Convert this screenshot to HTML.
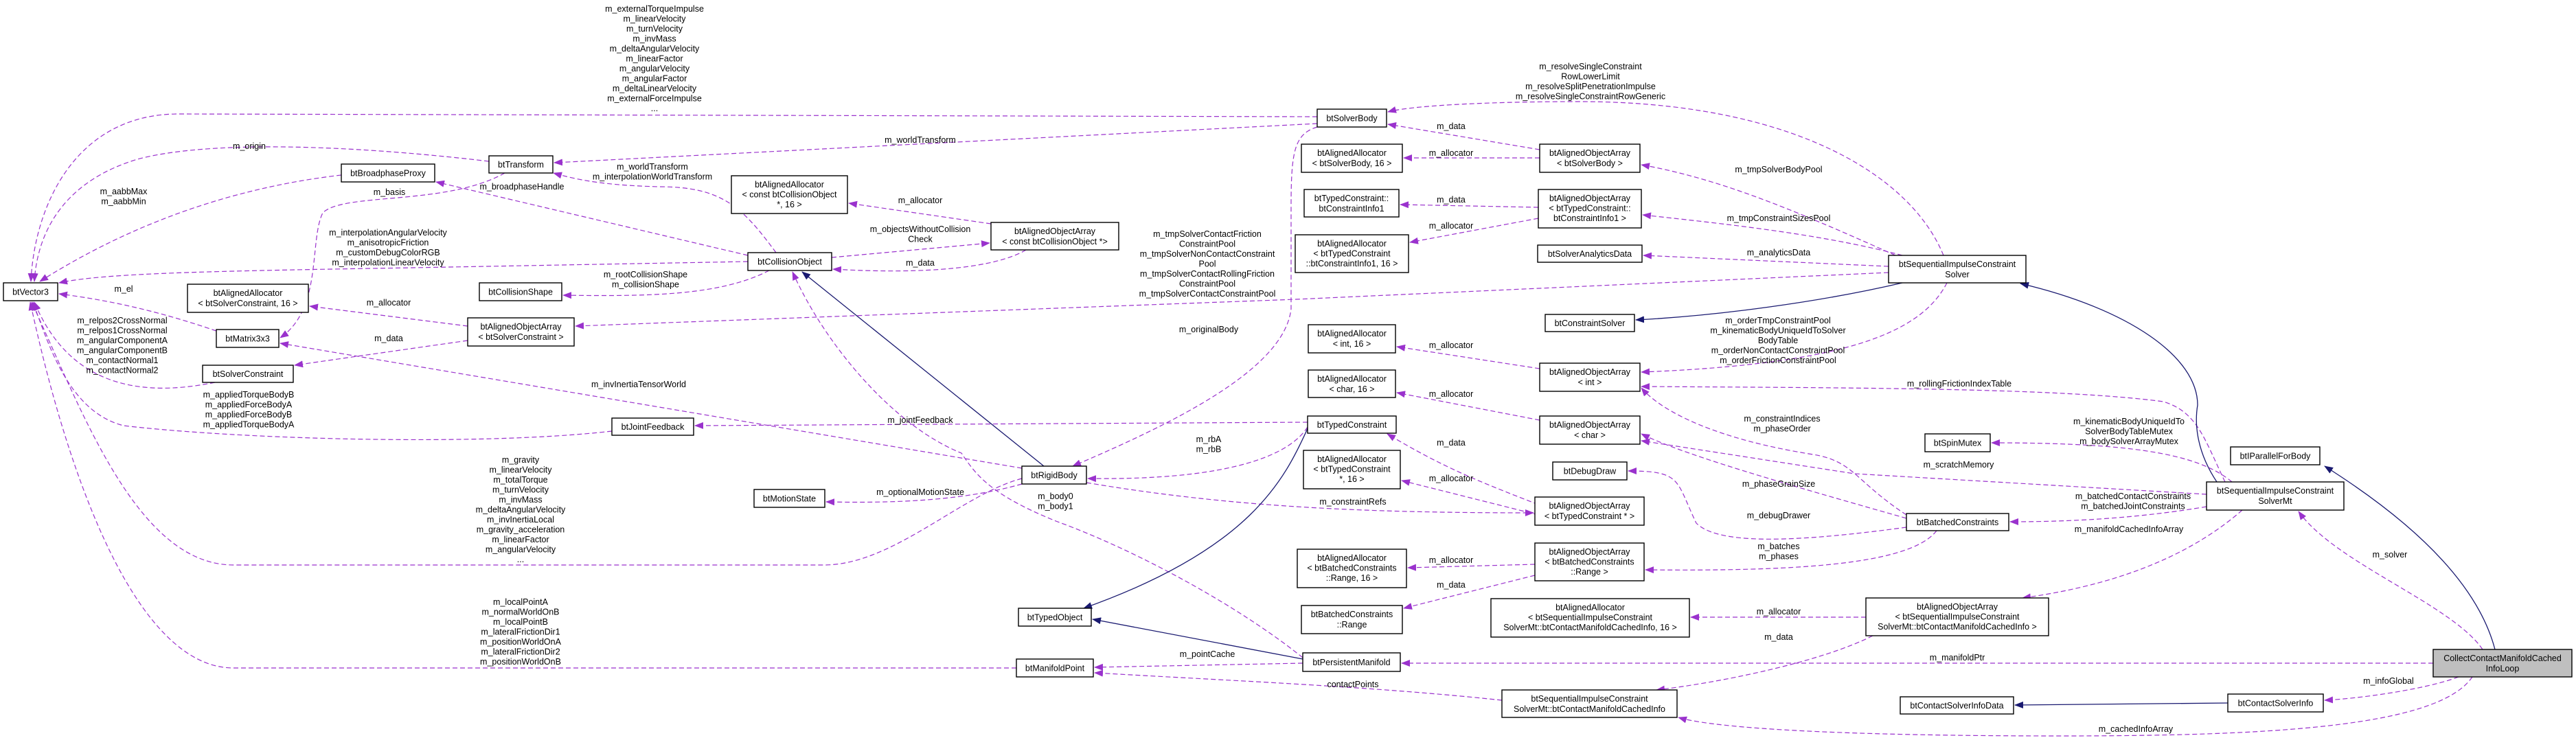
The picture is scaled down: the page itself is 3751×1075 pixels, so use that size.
<!DOCTYPE html>
<html><head><meta charset="utf-8"><style>
html,body{margin:0;padding:0;background:#fff;}
svg{display:block;font-family:"Liberation Sans",sans-serif;font-size:12.5px;}
.n rect{fill:#fff;stroke:#000;stroke-width:1.4}
.p{fill:none;stroke:#9a32cd;stroke-width:1.2;stroke-dasharray:7,4;marker-end:url(#pa)}
.i{fill:none;stroke:#191970;stroke-width:1.3;marker-end:url(#na)}
text{text-anchor:middle;fill:#000}
</style></head><body>
<svg width="3751" height="1075" viewBox="0 0 3751 1075" xmlns="http://www.w3.org/2000/svg">
<defs>
<marker id="pa" markerWidth="13" markerHeight="10" refX="12" refY="5" orient="auto" markerUnits="userSpaceOnUse"><path d="M0,0 L13,5 L0,10 z" fill="#9a32cd"/></marker>
<marker id="na" markerWidth="13" markerHeight="10" refX="12" refY="5" orient="auto" markerUnits="userSpaceOnUse"><path d="M0,0 L13,5 L0,10 z" fill="#191970"/></marker>
</defs>

<!-- edges -->
<path class="p" d="M1918,170 L260,166 C110,166 50,300 45,410"/>
<path class="p" d="M712,235 C500,210 300,205 200,232 C100,262 55,330 50,410"/>
<path class="p" d="M497,255 C350,272 200,320 58,410"/>
<path class="p" d="M1089,381 L600,390 C300,395 150,398 86,412"/>
<path class="p" d="M315,482 C250,460 180,440 86,428"/>
<path class="p" d="M735,252 C650,300 500,280 470,310 C450,350 470,450 408,492"/>
<path class="p" d="M681,475 L451,446"/>
<path class="p" d="M681,496 L429,532"/>
<path class="p" d="M1488,682 L408,500"/>
<path class="p" d="M313,557 C200,580 100,560 50,440"/>
<path class="p" d="M891,628 C700,650 350,640 180,620 C100,600 70,500 48,440"/>
<path class="p" d="M1488,697 C1400,720 1300,823 1200,823 L340,823 C200,823 120,600 46,440"/>
<path class="p" d="M1480,973 L340,973 C200,973 100,700 44,440"/>
<path class="p" d="M1130,368 C1080,300 1050,272 960,272 C880,270 840,262 806,252"/>
<path class="p" d="M1918,180 L807,237"/>
<path class="p" d="M1089,372 L635,265"/>
<path class="p" d="M1120,394 C1050,430 950,432 820,430"/>
<path class="p" d="M1443,326 L1236,296"/>
<path class="p" d="M1211,375 L1441,354"/>
<path class="p" d="M1494,364 C1450,390 1350,400 1213,392"/>
<path class="i" d="M1520,679 L1168,396"/>
<path class="p" d="M1897,958 C1800,880 1650,800 1540,760 C1440,720 1420,690 1400,660 C1300,620 1200,500 1154,396"/>
<path class="p" d="M2750,397 L1887,436 L838,475"/>
<path class="p" d="M1918,185 C1885,195 1880,220 1880,300 L1880,450 C1870,540 1700,620 1562,679"/>
<path class="p" d="M1904,615 L1012,620"/>
<path class="p" d="M1904,622 C1880,660 1800,700 1584,697"/>
<path class="p" d="M1488,705 C1400,730 1300,733 1203,731"/>
<path class="p" d="M2240,735 C2150,700 2100,680 2020,632"/>
<path class="p" d="M2240,750 L2041,700"/>
<path class="p" d="M1582,703 C1800,740 2000,747 2233,747"/>
<path class="i" d="M1905,622 C1870,700 1820,800 1578,886"/>
<path class="i" d="M1897,960 L1591,902"/>
<path class="p" d="M1897,966 L1594,972"/>
<path class="p" d="M2187,1020 C2000,1000 1800,992 1594,980"/>
<path class="p" d="M2830,372 C2780,250 2600,148 2300,148 C2150,148 2050,155 2021,163"/>
<path class="p" d="M2242,218 L2021,181"/>
<path class="p" d="M2242,230 L2044,230"/>
<path class="p" d="M2760,372 C2600,300 2500,260 2390,240"/>
<path class="p" d="M2240,302 L2039,298"/>
<path class="p" d="M2240,318 L2053,353"/>
<path class="p" d="M2770,372 C2650,340 2500,325 2392,313"/>
<path class="p" d="M2750,388 L2393,372"/>
<path class="i" d="M2770,412 C2650,440 2500,460 2382,466"/>
<path class="p" d="M2835,412 C2800,480 2700,530 2390,542"/>
<path class="p" d="M2242,537 L2034,505"/>
<path class="p" d="M3240,702 C3210,640 3200,600 3150,585 C3000,565 2700,565 2390,563"/>
<path class="i" d="M3228,702 C3200,660 3195,620 3200,590 C3200,520 3100,450 2942,413"/>
<path class="p" d="M2242,612 L2034,572"/>
<path class="p" d="M2776,750 C2700,700 2700,672 2640,662 C2500,640 2420,600 2390,565"/>
<path class="p" d="M3213,720 L2700,690 L2390,642"/>
<path class="p" d="M2776,755 C2600,705 2450,662 2390,632"/>
<path class="p" d="M2776,768 C2600,792 2500,792 2470,762 C2440,700 2450,686 2371,686"/>
<path class="p" d="M3250,702 C3200,660 3100,645 2900,645"/>
<path class="p" d="M3213,738 C3100,757 3000,760 2927,760"/>
<path class="p" d="M2820,773 C2780,825 2600,832 2396,830"/>
<path class="p" d="M2235,822 L2050,827"/>
<path class="p" d="M2235,838 L2044,886"/>
<path class="p" d="M3265,743 C3200,800 3100,850 2945,871"/>
<path class="p" d="M2717,899 L2462,899"/>
<path class="p" d="M2727,926 C2650,965 2500,995 2412,1005"/>
<path class="p" d="M3615,946 C3570,880 3400,820 3347,745"/>
<path class="i" d="M3633,946 C3600,820 3450,720 3385,679"/>
<path class="p" d="M3543,966 L2041,966"/>
<path class="p" d="M3580,986 C3530,1005 3430,1018 3385,1020"/>
<path class="i" d="M3244,1024 L2934,1027"/>
<path class="p" d="M3600,986 C3550,1060 3300,1072 3000,1072 C2700,1072 2500,1062 2444,1045"/>

<!-- nodes -->
<g class="n">
<rect x="5" y="412" width="79" height="26"/><text x="44.5" y="429.5">btVector3</text>
<rect x="712" y="227" width="93" height="25"/><text x="758.5" y="244">btTransform</text>
<rect x="497" y="239" width="136" height="26"/><text x="565" y="256.5">btBroadphaseProxy</text>
<rect x="273" y="414" width="176" height="41"/><text x="361" y="431">btAlignedAllocator</text><text x="361" y="446">&lt; btSolverConstraint, 16 &gt;</text>
<rect x="698" y="412" width="120" height="26"/><text x="758" y="429.5">btCollisionShape</text>
<rect x="315" y="480" width="91" height="26"/><text x="360.5" y="497.5">btMatrix3x3</text>
<rect x="681" y="463" width="155" height="41"/><text x="758.5" y="480">btAlignedObjectArray</text><text x="758.5" y="495">&lt; btSolverConstraint &gt;</text>
<rect x="295" y="532" width="132" height="25"/><text x="361" y="549">btSolverConstraint</text>
<rect x="891" y="609" width="119" height="25"/><text x="950.5" y="626">btJointFeedback</text>
<rect x="1065" y="256" width="169" height="55"/><text x="1149.5" y="273">btAlignedAllocator</text><text x="1149.5" y="287.5">&lt; const btCollisionObject</text><text x="1149.5" y="302">*, 16 &gt;</text>
<rect x="1443" y="324" width="186" height="40"/><text x="1536" y="341">btAlignedObjectArray</text><text x="1536" y="356">&lt; const btCollisionObject *&gt;</text>
<rect x="1089" y="368" width="122" height="26"/><text x="1150" y="385.5">btCollisionObject</text>
<rect x="1488" y="679" width="94" height="26"/><text x="1535" y="696.5">btRigidBody</text>
<rect x="1098" y="713" width="103" height="26"/><text x="1149.5" y="730.5">btMotionState</text>
<rect x="1483" y="886" width="106" height="26"/><text x="1536" y="903.5">btTypedObject</text>
<rect x="1480" y="960" width="112" height="26"/><text x="1536" y="977.5">btManifoldPoint</text>
<rect x="1918" y="159" width="101" height="26"/><text x="1968.5" y="176.5">btSolverBody</text>
<rect x="1895" y="210" width="147" height="41"/><text x="1968.5" y="227">btAlignedAllocator</text><text x="1968.5" y="242">&lt; btSolverBody, 16 &gt;</text>
<rect x="2242" y="210" width="146" height="41"/><text x="2315" y="227">btAlignedObjectArray</text><text x="2315" y="242">&lt; btSolverBody &gt;</text>
<rect x="1899" y="276" width="138" height="40"/><text x="1968" y="293">btTypedConstraint::</text><text x="1968" y="308">btConstraintInfo1</text>
<rect x="2240" y="276" width="150" height="56"/><text x="2315" y="293">btAlignedObjectArray</text><text x="2315" y="307.5">&lt; btTypedConstraint::</text><text x="2315" y="322">btConstraintInfo1 &gt;</text>
<rect x="1886" y="342" width="165" height="55"/><text x="1968.5" y="359">btAlignedAllocator</text><text x="1968.5" y="373.5">&lt; btTypedConstraint</text><text x="1968.5" y="388">::btConstraintInfo1, 16 &gt;</text>
<rect x="2239" y="357" width="152" height="25"/><text x="2315" y="374">btSolverAnalyticsData</text>
<rect x="2750" y="372" width="200" height="40"/><text x="2850" y="389">btSequentialImpulseConstraint</text><text x="2850" y="404">Solver</text>
<rect x="2250" y="458" width="130" height="25"/><text x="2315" y="475">btConstraintSolver</text>
<rect x="1905" y="473" width="127" height="41"/><text x="1968.5" y="490">btAlignedAllocator</text><text x="1968.5" y="505">&lt; int, 16 &gt;</text>
<rect x="2242" y="529" width="146" height="41"/><text x="2315" y="546">btAlignedObjectArray</text><text x="2315" y="561">&lt; int &gt;</text>
<rect x="1905" y="539" width="127" height="40"/><text x="1968.5" y="556">btAlignedAllocator</text><text x="1968.5" y="571">&lt; char, 16 &gt;</text>
<rect x="1904" y="606" width="129" height="25"/><text x="1968.5" y="623">btTypedConstraint</text>
<rect x="2242" y="606" width="146" height="41"/><text x="2315" y="623">btAlignedObjectArray</text><text x="2315" y="638">&lt; char &gt;</text>
<rect x="1898" y="656" width="141" height="56"/><text x="1968.5" y="673">btAlignedAllocator</text><text x="1968.5" y="687.5">&lt; btTypedConstraint</text><text x="1968.5" y="702">*, 16 &gt;</text>
<rect x="2261" y="673" width="108" height="26"/><text x="2315" y="690.5">btDebugDraw</text>
<rect x="2235" y="724" width="159" height="41"/><text x="2314.5" y="741">btAlignedObjectArray</text><text x="2314.5" y="756">&lt; btTypedConstraint * &gt;</text>
<rect x="2776" y="748" width="149" height="25"/><text x="2850.5" y="765">btBatchedConstraints</text>
<rect x="2803" y="632" width="95" height="26"/><text x="2850.5" y="649.5">btSpinMutex</text>
<rect x="3248" y="651" width="130" height="26"/><text x="3313" y="668.5">btIParallelForBody</text>
<rect x="3213" y="702" width="200" height="41"/><text x="3313" y="719">btSequentialImpulseConstraint</text><text x="3313" y="734">SolverMt</text>
<rect x="1889" y="800" width="159" height="56"/><text x="1968.5" y="817">btAlignedAllocator</text><text x="1968.5" y="831.5">&lt; btBatchedConstraints</text><text x="1968.5" y="846">::Range, 16 &gt;</text>
<rect x="2235" y="791" width="159" height="55"/><text x="2314.5" y="808">btAlignedObjectArray</text><text x="2314.5" y="822.5">&lt; btBatchedConstraints</text><text x="2314.5" y="837">::Range &gt;</text>
<rect x="1895" y="882" width="147" height="41"/><text x="1968.5" y="899">btBatchedConstraints</text><text x="1968.5" y="914">::Range</text>
<rect x="2171" y="872" width="289" height="56"/><text x="2315.5" y="889">btAlignedAllocator</text><text x="2315.5" y="903.5">&lt; btSequentialImpulseConstraint</text><text x="2315.5" y="918">SolverMt::btContactManifoldCachedInfo, 16 &gt;</text>
<rect x="2717" y="871" width="266" height="55"/><text x="2850" y="888">btAlignedObjectArray</text><text x="2850" y="902.5">&lt; btSequentialImpulseConstraint</text><text x="2850" y="917">SolverMt::btContactManifoldCachedInfo &gt;</text>
<rect x="1897" y="951" width="142" height="27"/><text x="1968" y="969">btPersistentManifold</text>
<rect x="3543" y="946" width="202" height="40" style="fill:#bfbfbf"/><text x="3644" y="963">CollectContactManifoldCached</text><text x="3644" y="978">InfoLoop</text>
<rect x="2187" y="1005" width="255" height="40"/><text x="2314.5" y="1022">btSequentialImpulseConstraint</text><text x="2314.5" y="1037">SolverMt::btContactManifoldCachedInfo</text>
<rect x="2767" y="1015" width="165" height="25"/><text x="2849.5" y="1032">btContactSolverInfoData</text>
<rect x="3244" y="1011" width="139" height="26"/><text x="3313.5" y="1028.5">btContactSolverInfo</text>
</g>

<!-- edge labels -->
<g>
<text x="953" y="17">m_externalTorqueImpulse</text><text x="953" y="31.5">m_linearVelocity</text><text x="953" y="46">m_turnVelocity</text><text x="953" y="60.5">m_invMass</text><text x="953" y="75">m_deltaAngularVelocity</text><text x="953" y="89.5">m_linearFactor</text><text x="953" y="104">m_angularVelocity</text><text x="953" y="118.5">m_angularFactor</text><text x="953" y="133">m_deltaLinearVelocity</text><text x="953" y="147.5">m_externalForceImpulse</text><text x="953" y="162">...</text>
<text x="363" y="217">m_origin</text>
<text x="180" y="283">m_aabbMax</text><text x="180" y="297.5">m_aabbMin</text>
<text x="565" y="343">m_interpolationAngularVelocity</text><text x="565" y="357.5">m_anisotropicFriction</text><text x="565" y="372">m_customDebugColorRGB</text><text x="565" y="386.5">m_interpolationLinearVelocity</text>
<text x="180" y="425">m_el</text>
<text x="567" y="284">m_basis</text>
<text x="566" y="445">m_allocator</text>
<text x="566" y="497">m_data</text>
<text x="930" y="564">m_invInertiaTensorWorld</text>
<text x="178" y="471">m_relpos2CrossNormal</text><text x="178" y="485.5">m_relpos1CrossNormal</text><text x="178" y="500">m_angularComponentA</text><text x="178" y="514.5">m_angularComponentB</text><text x="178" y="529">m_contactNormal1</text><text x="178" y="543.5">m_contactNormal2</text>
<text x="362" y="579">m_appliedTorqueBodyB</text><text x="362" y="593.5">m_appliedForceBodyA</text><text x="362" y="608">m_appliedForceBodyB</text><text x="362" y="622.5">m_appliedTorqueBodyA</text>
<text x="758" y="674">m_gravity</text><text x="758" y="688.5">m_linearVelocity</text><text x="758" y="703">m_totalTorque</text><text x="758" y="717.5">m_turnVelocity</text><text x="758" y="732">m_invMass</text><text x="758" y="746.5">m_deltaAngularVelocity</text><text x="758" y="761">m_invInertiaLocal</text><text x="758" y="775.5">m_gravity_acceleration</text><text x="758" y="790">m_linearFactor</text><text x="758" y="804.5">m_angularVelocity</text><text x="758" y="819">...</text>
<text x="758" y="881">m_localPointA</text><text x="758" y="895.5">m_normalWorldOnB</text><text x="758" y="910">m_localPointB</text><text x="758" y="924.5">m_lateralFrictionDir1</text><text x="758" y="939">m_positionWorldOnA</text><text x="758" y="953.5">m_lateralFrictionDir2</text><text x="758" y="968">m_positionWorldOnB</text>
<text x="950" y="247">m_worldTransform</text><text x="950" y="261.5">m_interpolationWorldTransform</text>
<text x="1340" y="208">m_worldTransform</text>
<text x="760" y="276">m_broadphaseHandle</text>
<text x="940" y="404">m_rootCollisionShape</text><text x="940" y="418.5">m_collisionShape</text>
<text x="1340" y="296">m_allocator</text>
<text x="1340" y="338">m_objectsWithoutCollision</text><text x="1340" y="352.5">Check</text>
<text x="1340" y="387">m_data</text>
<text x="1537" y="727">m_body0</text><text x="1537" y="741.5">m_body1</text>
<text x="1758" y="345">m_tmpSolverContactFriction</text><text x="1758" y="359.5">ConstraintPool</text><text x="1758" y="374">m_tmpSolverNonContactConstraint</text><text x="1758" y="388.5">Pool</text><text x="1758" y="403">m_tmpSolverContactRollingFriction</text><text x="1758" y="417.5">ConstraintPool</text><text x="1758" y="432">m_tmpSolverContactConstraintPool</text>
<text x="1760" y="484">m_originalBody</text>
<text x="1340" y="616">m_jointFeedback</text>
<text x="1760" y="644">m_rbA</text><text x="1760" y="658.5">m_rbB</text>
<text x="1340" y="721">m_optionalMotionState</text>
<text x="2113" y="649">m_data</text>
<text x="2113" y="701">m_allocator</text>
<text x="1970" y="735">m_constraintRefs</text>
<text x="1758" y="957">m_pointCache</text>
<text x="1970" y="1001">contactPoints</text>
<text x="2316" y="101">m_resolveSingleConstraint</text><text x="2316" y="115.5">RowLowerLimit</text><text x="2316" y="130">m_resolveSplitPenetrationImpulse</text><text x="2316" y="144.5">m_resolveSingleConstraintRowGeneric</text>
<text x="2113" y="188">m_data</text>
<text x="2113" y="227">m_allocator</text>
<text x="2590" y="251">m_tmpSolverBodyPool</text>
<text x="2113" y="295">m_data</text>
<text x="2113" y="333">m_allocator</text>
<text x="2590" y="322">m_tmpConstraintSizesPool</text>
<text x="2590" y="372">m_analyticsData</text>
<text x="2589" y="471">m_orderTmpConstraintPool</text><text x="2589" y="485.5">m_kinematicBodyUniqueIdToSolver</text><text x="2589" y="500">BodyTable</text><text x="2589" y="514.5">m_orderNonContactConstraintPool</text><text x="2589" y="529">m_orderFrictionConstraintPool</text>
<text x="2113" y="507">m_allocator</text>
<text x="2853" y="563">m_rollingFrictionIndexTable</text>
<text x="2113" y="578">m_allocator</text>
<text x="2595" y="614">m_constraintIndices</text><text x="2595" y="628.5">m_phaseOrder</text>
<text x="3100" y="618">m_kinematicBodyUniqueIdTo</text><text x="3100" y="632.5">SolverBodyTableMutex</text><text x="3100" y="647">m_bodySolverArrayMutex</text>
<text x="2852" y="681">m_scratchMemory</text>
<text x="2590" y="709">m_phaseGrainSize</text>
<text x="2590" y="755">m_debugDrawer</text>
<text x="3106" y="727">m_batchedContactConstraints</text><text x="3106" y="741.5">m_batchedJointConstraints</text>
<text x="3100" y="775">m_manifoldCachedInfoArray</text>
<text x="2590" y="800">m_batches</text><text x="2590" y="814.5">m_phases</text>
<text x="2113" y="820">m_allocator</text>
<text x="2113" y="856">m_data</text>
<text x="2590" y="895">m_allocator</text>
<text x="2590" y="932">m_data</text>
<text x="3480" y="812">m_solver</text>
<text x="2850" y="962">m_manifoldPtr</text>
<text x="3478" y="996">m_infoGlobal</text>
<text x="3110" y="1066">m_cachedInfoArray</text>
</g>
</svg>
</body></html>
